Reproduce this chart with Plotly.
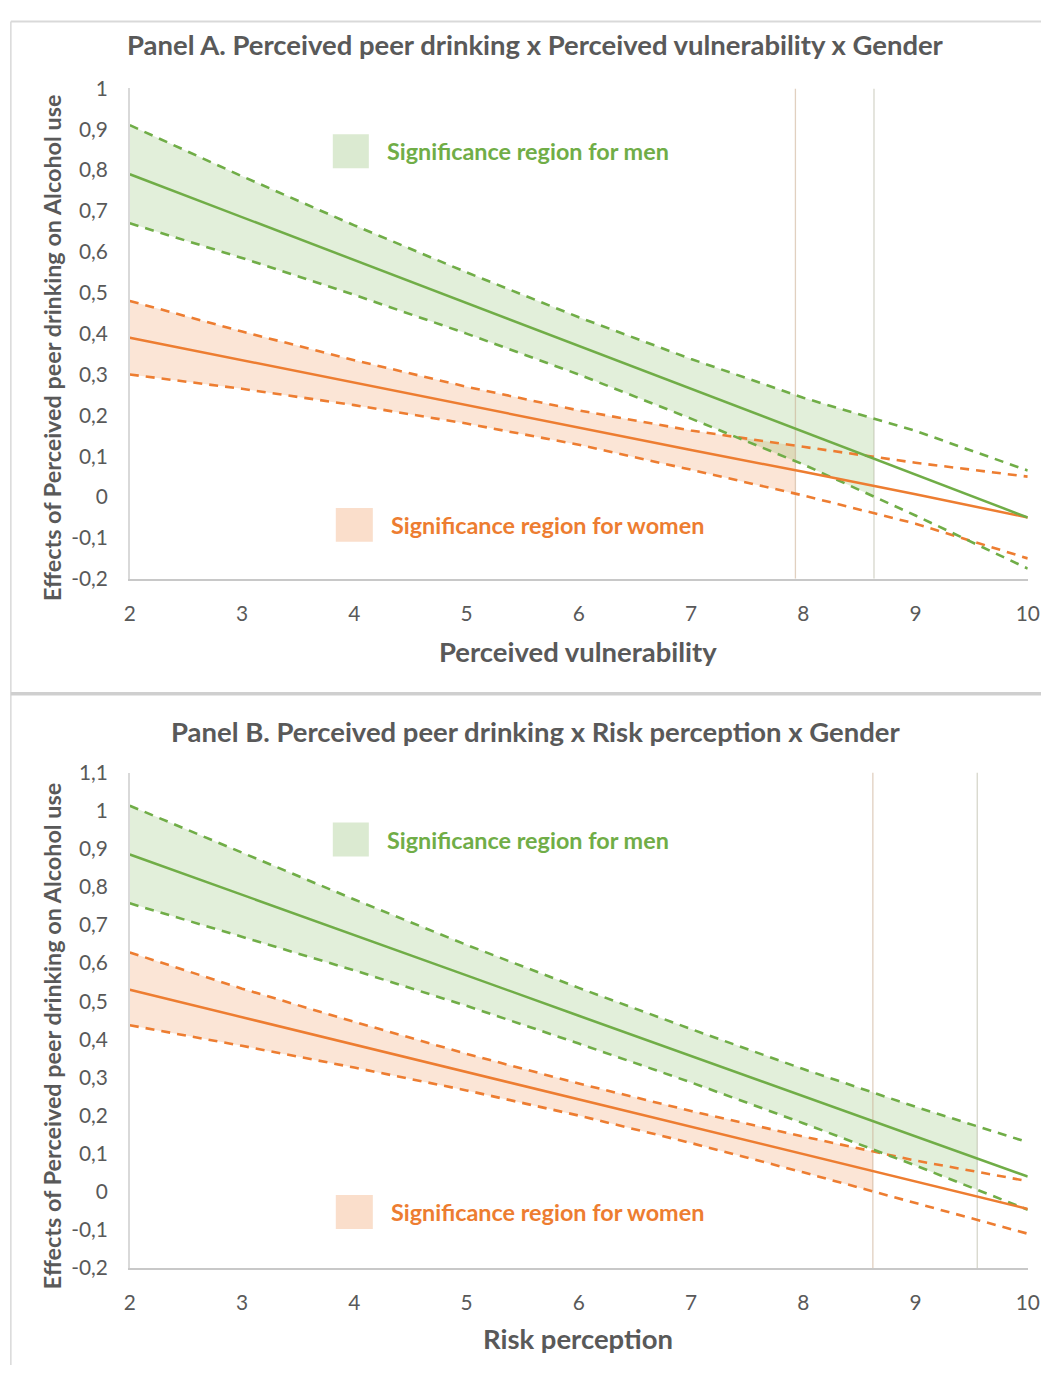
import numpy as np
import plotly.graph_objects as go

W, H = 1053, 1376

# ---------------- data ----------------
X = [2, 3, 4, 5, 6, 7, 8, 9, 10]
x_ticks = [2, 3, 4, 5, 6, 7, 8, 9, 10]

# Panel A: Perceived vulnerability
A_men_mid = [0.79, 0.685, 0.58, 0.475, 0.37, 0.265, 0.16, 0.055, -0.05]
A_men_up = [0.91, 0.785, 0.665, 0.55, 0.44, 0.338, 0.243, 0.162, 0.065]
A_men_lo = [0.67, 0.585, 0.495, 0.40, 0.30, 0.192, 0.08, -0.045, -0.175]
A_wom_mid = [0.39, 0.335, 0.28, 0.225, 0.17, 0.115, 0.062, 0.007, -0.05]
A_wom_up = [0.48, 0.405, 0.335, 0.27, 0.212, 0.163, 0.123, 0.084, 0.05]
A_wom_lo = [0.30, 0.265, 0.225, 0.18, 0.128, 0.067, 0.004, -0.065, -0.15]
A_cut_women = 7.93
A_cut_men = 8.63
A_yticks = [-0.2, -0.1, 0, 0.1, 0.2, 0.3, 0.4, 0.5, 0.6, 0.7, 0.8, 0.9, 1]
A_ytext = ["-0,2", "-0,1", "0", "0,1", "0,2", "0,3", "0,4", "0,5", "0,6", "0,7", "0,8", "0,9", "1"]

# Panel B: Risk perception
B_men_mid = [0.885, 0.78, 0.674, 0.568, 0.462, 0.357, 0.251, 0.146, 0.04]
B_men_up = [1.013, 0.89, 0.767, 0.648, 0.535, 0.427, 0.322, 0.223, 0.13]
B_men_lo = [0.757, 0.67, 0.581, 0.488, 0.389, 0.287, 0.18, 0.069, -0.047]
B_wom_mid = [0.53, 0.458, 0.386, 0.314, 0.242, 0.17, 0.098, 0.026, -0.045]
B_wom_up = [0.628, 0.533, 0.446, 0.362, 0.284, 0.212, 0.145, 0.082, 0.028]
B_wom_lo = [0.437, 0.383, 0.326, 0.266, 0.2, 0.128, 0.051, -0.03, -0.11]
B_cut_women = 8.62
B_cut_men = 9.55
B_yticks = [-0.2, -0.1, 0, 0.1, 0.2, 0.3, 0.4, 0.5, 0.6, 0.7, 0.8, 0.9, 1, 1.1]
B_ytext = ["-0,2", "-0,1", "0", "0,1", "0,2", "0,3", "0,4", "0,5", "0,6", "0,7", "0,8", "0,9", "1", "1,1"]

titles = ["Panel A. Perceived peer drinking x Perceived vulnerability x Gender",
          "Panel B. Perceived peer drinking x Risk perception x Gender"]
x_titles = ["Perceived vulnerability", "Risk perception"]
y_title = "Effects of Perceived peer drinking on Alcohol use"
leg_men = "Significance region for men"
leg_women = "Significance region for women"

# ---------------- style ----------------
GREEN = "#70ad47"
ORANGE = "#ed7d31"
GREEN_FILL = "rgba(112,173,71,0.2)"
ORANGE_FILL = "rgba(237,125,49,0.2)"
TXT = "#595959"
FONT = "Lato, 'Open Sans', sans-serif"

# page-capture compensation (screen = S * fig + offset)
S = 0.983
OX, OY = 5.15, 12.5


def px(x):
    return ((x - OX) / S) / W


def py(y):
    return 1 - ((y - OY) / S) / H


def fs(v):
    return v / S


fig = go.Figure()


def band_polygon(cut, up, lo):
    xs = [x for x in X if x < cut]
    u = [up[X.index(x)] for x in xs] + [float(np.interp(cut, X, up))]
    l = [lo[X.index(x)] for x in xs] + [float(np.interp(cut, X, lo))]
    xs2 = xs + [cut]
    return xs2 + xs2[::-1], u + l[::-1]


panels = [
    dict(xa="x", ya="y", mm=A_men_mid, mu=A_men_up, ml=A_men_lo,
         wm=A_wom_mid, wu=A_wom_up, wl=A_wom_lo, cw=A_cut_women, cm=A_cut_men,
         ymax=1.0),
    dict(xa="x2", ya="y2", mm=B_men_mid, mu=B_men_up, ml=B_men_lo,
         wm=B_wom_mid, wu=B_wom_up, wl=B_wom_lo, cw=B_cut_women, cm=B_cut_men,
         ymax=1.1),
]

for p in panels:
    fx, fy = band_polygon(p["cw"], p["wu"], p["wl"])
    fig.add_trace(go.Scatter(x=fx, y=fy, fill="toself", fillcolor=ORANGE_FILL,
                             line=dict(width=0), mode="lines", xaxis=p["xa"], yaxis=p["ya"],
                             hoverinfo="skip", showlegend=False))
    fx, fy = band_polygon(p["cm"], p["mu"], p["ml"])
    fig.add_trace(go.Scatter(x=fx, y=fy, fill="toself", fillcolor=GREEN_FILL,
                             line=dict(width=0), mode="lines", xaxis=p["xa"], yaxis=p["ya"],
                             hoverinfo="skip", showlegend=False))
    for c, col in [(p["cw"], "rgba(200,170,140,0.55)"), (p["cm"], "rgba(180,180,160,0.55)")]:
        fig.add_trace(go.Scatter(x=[c, c], y=[-0.2, p["ymax"]], mode="lines",
                                 line=dict(color=col, width=1.3), xaxis=p["xa"], yaxis=p["ya"],
                                 hoverinfo="skip", showlegend=False))
    for ys, col in [(p["wu"], ORANGE), (p["wl"], ORANGE), (p["mu"], GREEN), (p["ml"], GREEN)]:
        fig.add_trace(go.Scatter(x=X, y=ys, mode="lines",
                                 line=dict(color=col, width=2.6, dash="9px,7px"),
                                 xaxis=p["xa"], yaxis=p["ya"], showlegend=False))
    for ys, col in [(p["wm"], ORANGE), (p["mm"], GREEN)]:
        fig.add_trace(go.Scatter(x=X, y=ys, mode="lines", line=dict(color=col, width=2.5),
                                 xaxis=p["xa"], yaxis=p["ya"], showlegend=False))

xdom = [px(129), px(1027)]
axis_common = dict(showgrid=False, zeroline=False, ticks="",
                   tickfont=dict(family=FONT, size=fs(20.5), color=TXT))

fig.update_layout(
    width=W, height=H,
    margin=dict(l=0, r=0, t=0, b=0),
    paper_bgcolor="white", plot_bgcolor="white",
    showlegend=False,
    xaxis=dict(domain=xdom, range=[2, 10], tickvals=x_ticks, anchor="y",
               showline=True, linecolor="#c8c8c8", linewidth=1.5, ticklabelstandoff=15, **axis_common),
    yaxis=dict(domain=[py(578), py(87)], range=[-0.2, 1.0], tickvals=A_yticks, ticktext=A_ytext,
               anchor="x", showline=True, linecolor="#d9d9d9", linewidth=1.5, ticklabelstandoff=16,
               **axis_common),
    xaxis2=dict(domain=xdom, range=[2, 10], tickvals=x_ticks, anchor="y2",
                showline=True, linecolor="#c8c8c8", linewidth=1.5, ticklabelstandoff=15, **axis_common),
    yaxis2=dict(domain=[py(1268), py(772)], range=[-0.2, 1.1], tickvals=B_yticks, ticktext=B_ytext,
                anchor="x2", showline=True, linecolor="#d9d9d9", linewidth=1.5, ticklabelstandoff=16,
                **axis_common),
)

ann = []
shapes = []
shapes.append(dict(type="line", xref="paper", yref="paper", x0=px(10), x1=1, y0=py(20), y1=py(20),
                   line=dict(color="#d9d9d9", width=2)))
shapes.append(dict(type="line", xref="paper", yref="paper", x0=px(10), x1=px(10), y0=0, y1=py(20),
                   line=dict(color="#d9d9d9", width=1.5)))
shapes.append(dict(type="line", xref="paper", yref="paper", x0=px(10), x1=1, y0=py(693), y1=py(693),
                   line=dict(color="#cfcfcf", width=3.5)))

title_y = [43, 731]
xt_y = [651, 1339]
yt_y = [347, 1036]
leg = [
    [(332, 368, 133, 167, 384, 150, leg_men, GREEN, "rgba(112,173,71,0.25)"),
     (335, 372, 507, 541, 388, 524, leg_women, ORANGE, "rgba(237,125,49,0.25)")],
    [(332, 368, 822, 856, 384, 839, leg_men, GREEN, "rgba(112,173,71,0.25)"),
     (335, 372, 1195, 1229, 388, 1212, leg_women, ORANGE, "rgba(237,125,49,0.25)")],
]
for i in range(2):
    ann.append(dict(text="<b>" + titles[i] + "</b>", xref="paper", yref="paper", x=px(535), y=py(title_y[i]),
                    xanchor="center", yanchor="middle", showarrow=False,
                    font=dict(family=FONT, size=fs(27), color=TXT)))
    ann.append(dict(text="<b>" + x_titles[i] + "</b>", xref="paper", yref="paper", x=px(577), y=py(xt_y[i]),
                    xanchor="center", yanchor="middle", showarrow=False,
                    font=dict(family=FONT, size=fs(27), color=TXT)))
    ann.append(dict(text="<b>" + y_title + "</b>", xref="paper", yref="paper", x=px(51), y=py(yt_y[i]),
                    xanchor="center", yanchor="middle", showarrow=False, textangle=-90,
                    font=dict(family=FONT, size=fs(23), color=TXT)))
    for (sx0, sx1, sy0, sy1, tx, ty, t, col, fc) in leg[i]:
        shapes.append(dict(type="rect", xref="paper", yref="paper", x0=px(sx0), x1=px(sx1),
                           y0=py(sy1), y1=py(sy0), fillcolor=fc, line=dict(width=0)))
        ann.append(dict(text="<b>" + t + "</b>", xref="paper", yref="paper", x=px(tx), y=py(ty),
                        xanchor="left", yanchor="middle", showarrow=False,
                        font=dict(family=FONT, size=fs(23), color=col)))

fig.update_layout(annotations=ann, shapes=shapes)
fig.write_html("out.html", config={"displayModeBar": False},
               post_script="document.body.style.margin='0';document.body.style.overflow='hidden';")
